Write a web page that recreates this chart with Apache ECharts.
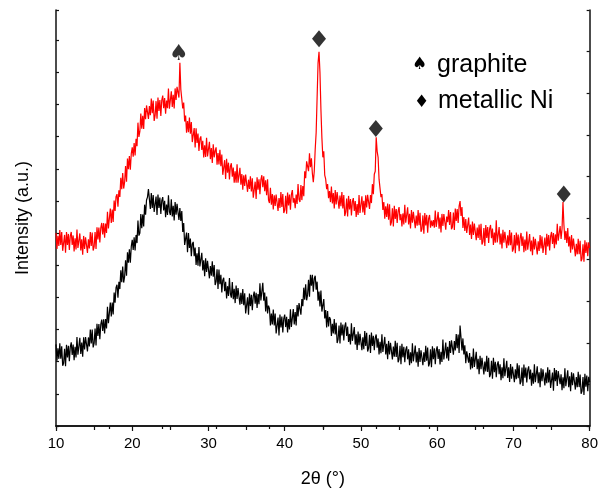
<!DOCTYPE html>
<html><head><meta charset="utf-8">
<script src="https://cdn.jsdelivr.net/npm/echarts@6/dist/echarts.min.js"></script>
<style>html,body{margin:0;padding:0;background:#fff}#c{width:601px;height:493px}</style>
</head><body><div id="c"></div>
<script>
// 2θ sampling grid (degrees)
const thetaStart = 10, thetaStep = 0.125;
// Red pattern intensity (a.u.), read at 0.125° steps from 10° to 80° (one row per degree)
const redIntensity = [
1940,1780,1910,1810,1970,1820,1950,1760,
1780,1920,1740,1950,1820,1930,1770,1910,
1950,1820,1915,1755,1885,1775,1975,1790,
1775,1935,1765,1875,1720,1910,1780,1895,
1890,1738,1875,1783,1950,1808,1945,1763,
1800,1949,1778,1996,1875,1994,1843,1991,
2040,1924,2038,1891,2035,1939,2153,1986,
2000,2185,2040,2175,2050,2265,2160,2305,
2330,2204,2368,2301,2495,2379,2543,2386,
2450,2613,2455,2688,2580,2713,2575,2738,
2800,2706,2843,2719,2885,2811,3048,2904,
2960,3139,2988,3116,2985,3194,3083,3221,
3240,3086,3215,3124,3290,3144,3270,3065,
3120,3264,3088,3300,3165,3275,3115,3275,
3320,3193,3295,3139,3270,3193,3390,3188,
3190,3362,3205,3328,3190,3392,3275,3408,
3420,3300,3650,3380,3400,3190,3250,3060,
3120,2948,3065,2953,3100,2938,3055,2853,
2870,2994,2798,2991,2845,2939,2763,2886,
2910,2773,2865,2698,2820,2703,2895,2708,
2700,2856,2682,2792,2642,2830,2700,2765,
2800,2626,2743,2629,2775,2611,2728,2524,
2540,2671,2483,2684,2545,2646,2478,2609,
2640,2504,2598,2444,2559,2444,2631,2444,
2440,2594,2424,2531,2375,2519,2412,2526,
2520,2353,2475,2382,2510,2357,2490,2295,
2310,2455,2280,2500,2375,2480,2330,2475,
2520,2400,2510,2360,2470,2320,2480,2270,
2240,2394,2224,2331,2175,2319,2212,2326,
2320,2160,2290,2190,2350,2200,2330,2140,
2170,2314,2134,2345,2215,2325,2173,2326,
2370,2244,2289,2189,2325,2231,2431,2278,
2250,2420,2270,2410,2310,2560,2490,2660,
2640,2560,2740,2600,2690,2540,2450,2560,
2780,2950,3300,3650,3760,3550,3180,2900,
2700,2760,2520,2480,2380,2430,2290,2360,
2250,2405,2235,2340,2185,2370,2225,2350,
2350,2184,2315,2208,2350,2186,2320,2110,
2150,2286,2106,2312,2175,2281,2116,2254,
2290,2160,2260,2100,2230,2120,2320,2140,
2140,2308,2145,2263,2120,2318,2195,2323,
2330,2180,2320,2240,2430,2330,2530,2560,
2900,2760,2700,2480,2500,2300,2330,2170,
2250,2084,2208,2101,2235,2072,2228,2014,
2050,2188,2005,2213,2080,2180,2040,2158,
2200,2069,2128,2006,2136,2024,2224,2043,
2040,2198,2025,2133,1985,2171,2043,2152,
2150,1988,2115,2013,2170,2017,2143,1952,
1980,2116,1933,2139,2016,2121,1941,2083,
2120,1993,2065,2007,2070,1993,2165,2000,
1990,2151,1983,2094,1945,2131,2009,2129,
2130,1973,2105,2048,2170,2020,2150,1978,
2000,2145,1970,2185,2060,2180,2040,2210,
2260,2110,2200,1990,2100,1960,2080,1940,
1940,2095,1920,2025,1880,2055,1920,2035,
2030,1866,1993,1889,2025,1869,2031,1823,
1850,1990,1810,2020,1890,2000,1840,1980,
2020,1886,1983,1819,1945,1841,2066,1844,
1840,1998,1825,1933,1785,1971,1843,1952,
1950,1788,1915,1813,1970,1817,1943,1752,
1780,1919,1737,1945,1815,1924,1756,1889,
1940,1808,1905,1746,1873,1762,1955,1772,
1770,1928,1755,1863,1715,1901,1773,1882,
1880,1723,1855,1758,1920,1783,1905,1738,
1750,1894,1718,1931,1805,1919,1763,1906,
1950,1829,1938,1786,1925,1824,2033,1861,
1870,2010,1880,1980,2250,2020,1870,1960,
1840,1988,1805,1903,1740,1918,1775,1883,
1870,1705,1830,1725,1880,1725,1860,1655,
1680,1825,1650,1865,1740,1845,1705,1845,
1790
];
// Black pattern intensity (a.u.)
const blackIntensity = [
820,655,780,675,830,675,800,605,
630,775,600,815,690,805,650,795,
840,714,818,661,795,689,893,716,
720,886,723,839,695,891,768,894,
900,750,890,800,970,830,970,790,
830,979,808,1026,905,1024,873,1021,
1070,956,1073,929,1075,981,1198,1034,
1050,1240,1100,1240,1120,1340,1240,1390,
1420,1289,1448,1376,1565,1444,1603,1441,
1500,1665,1510,1745,1640,1775,1640,1805,
1870,1768,1895,1763,1920,1838,2065,1913,
1940,2129,1988,2126,2005,2224,2123,2271,
2300,2380,2280,2180,2340,2190,2320,2150,
2170,2305,2120,2325,2190,2295,2130,2265,
2300,2166,2263,2099,2225,2121,2318,2154,
2120,2278,2105,2213,2065,2251,2123,2232,
2230,2070,2190,2060,2160,1950,2040,1820,
1820,1943,1745,1938,1790,1883,1705,1828,
1850,1706,1793,1619,1735,1611,1798,1604,
1590,1741,1563,1664,1505,1686,1548,1659,
1650,1484,1608,1511,1655,1499,1617,1416,
1450,1574,1378,1571,1425,1519,1343,1466,
1490,1354,1448,1281,1405,1307,1487,1329,
1290,1446,1273,1379,1235,1411,1277,1386,
1390,1219,1338,1226,1375,1214,1333,1131,
1150,1294,1118,1331,1205,1319,1163,1306,
1350,1229,1338,1186,1325,1224,1433,1261,
1270,1440,1260,1340,1150,1300,1130,1210,
1180,1010,1130,1020,1170,1010,1130,930,
950,1090,910,1120,990,1100,940,1080,
1120,994,1098,941,1075,969,1173,996,
1000,1175,1020,1145,1010,1215,1100,1235,
1250,1118,1275,1203,1390,1268,1425,1263,
1320,1470,1300,1520,1410,1520,1350,1480,
1510,1370,1450,1260,1350,1200,1360,1150,
1140,1275,1080,1165,990,1155,1000,1095,
1070,904,1028,931,1075,919,1037,834,
870,1010,830,1040,910,1020,860,1000,
1040,904,998,844,925,819,1031,856,
840,994,818,921,765,949,813,926,
920,761,891,771,955,805,937,749,
780,916,733,939,805,907,761,886,
920,786,880,719,845,731,922,744,
740,895,720,825,670,855,720,835,
830,669,798,697,855,694,836,641,
670,805,620,825,690,795,640,765,
800,670,770,610,740,630,830,650,
650,809,638,746,595,784,643,761,
770,611,741,644,805,656,788,599,
630,770,590,800,670,780,620,760,
800,673,773,618,745,643,868,668,
670,839,678,796,655,854,733,861,
870,716,853,759,925,781,918,734,
1010,890,760,880,720,810,630,750,
770,636,733,569,695,581,778,594,
590,745,570,675,520,705,570,685,
680,519,648,547,705,544,686,491,
520,655,475,685,540,645,490,615,
650,520,620,460,590,480,680,500,
500,656,483,589,443,623,474,596,
600,440,570,470,630,480,610,420,
450,587,403,617,485,587,437,562,
600,469,568,406,534,424,621,441,
440,600,430,540,390,580,450,570,
570,408,538,431,590,438,565,383,
400,537,355,582,450,562,403,552,
550,420,520,360,490,380,580,400,
400,560,390,500,350,540,410,530,
530,366,493,389,545,391,518,324,
350,491,312,524,395,507,350,494,
440
];
// Peak markers
const graphitePeakX = [26.1], graphitePeakY = [3740];
const niPeakX = [44.5, 51.95, 76.6], niPeakY = [3890, 2990, 2330];
// Axis ticks
const xTickInterval = 10, topTickInterval = 7;
const yMax = 4180, leftTickInterval = 323, rightTickInterval = 418;
const legendLabels = ['graphite', 'metallic Ni'];

const toPairs = arr => arr.map((v, i) => [thetaStart + i * thetaStep, v]);
const font = 'Liberation Sans, Arial, sans-serif';
const chart = echarts.init(document.getElementById('c'), null, {renderer: 'canvas'});
const axisLine = {show: true, lineStyle: {color: '#111', width: 1.5}};
const tickStyle = {color: '#111', width: 1.2};
chart.setOption({
  animation: false,
  backgroundColor: '#fff',
  grid: {left: 56, right: 9, top: 10, bottom: 65},
  xAxis: [
    {type: 'value', position: 'bottom', min: 10, max: 80, interval: xTickInterval,
     axisLine, splitLine: {show: false},
     axisTick: {show: true, inside: false, length: 5, lineStyle: tickStyle},
     minorTick: {show: true, splitNumber: 2, length: 4, lineStyle: tickStyle},
     axisLabel: {color: '#000', fontSize: 15, fontFamily: font, margin: 10},
     name: '2θ (°)', nameLocation: 'middle', nameGap: 44,
     nameTextStyle: {color: '#000', fontSize: 18, fontFamily: font}},
    {type: 'value', position: 'top', min: 10, max: 80, interval: topTickInterval,
     axisLine, splitLine: {show: false}, axisLabel: {show: false},
     axisTick: {show: true, inside: true, length: 3, lineStyle: tickStyle}}
  ],
  yAxis: [
    {type: 'value', position: 'left', min: 0, max: yMax, interval: leftTickInterval,
     axisLine, splitLine: {show: false}, axisLabel: {show: false},
     axisTick: {show: true, inside: true, length: 3, lineStyle: tickStyle},
     name: 'Intensity (a.u.)', nameLocation: 'middle', nameGap: 24, nameRotate: 90,
     nameTextStyle: {color: '#000', fontSize: 18, fontFamily: font}},
    {type: 'value', position: 'right', min: 0, max: yMax, interval: rightTickInterval,
     axisLine, splitLine: {show: false}, axisLabel: {show: false},
     axisTick: {show: true, inside: true, length: 3, lineStyle: tickStyle}}
  ],
  series: [
    {type: 'line', name: 'black', data: toPairs(blackIntensity), showSymbol: false, symbol: 'none',
     lineStyle: {color: '#000', width: 1.2}, z: 2},
    {type: 'line', name: 'red', data: toPairs(redIntensity), showSymbol: false, symbol: 'none',
     lineStyle: {color: '#ff0000', width: 1.2}, z: 3},
    {type: 'scatter', name: 'graphite', data: graphitePeakX.map((x, i) => [x, graphitePeakY[i]]),
     symbol: 'circle', symbolSize: 1, itemStyle: {color: 'rgba(0,0,0,0)'},
     label: {show: true, position: 'inside', formatter: '♠', color: '#000', fontSize: 22, fontFamily: 'DejaVu Sans'}, z: 5},
    {type: 'scatter', name: 'Ni', data: niPeakX.map((x, i) => [x, niPeakY[i]]),
     symbol: 'diamond', symbolSize: [14, 17], itemStyle: {color: '#000'}, z: 5}
  ],
  graphic: [
    {type: 'text', left: 412, top: 56, style: {text: '♠', fontSize: 17, fontFamily: 'DejaVu Sans', fill: '#000'}},
    {type: 'text', left: 437, top: 53, style: {text: legendLabels[0], fontSize: 25, fontFamily: font, fill: '#000'}},
    {type: 'text', left: 414, top: 94, style: {text: '♦', fontSize: 17, fontFamily: 'DejaVu Sans', fill: '#000'}},
    {type: 'text', left: 438, top: 89, style: {text: legendLabels[1], fontSize: 25, fontFamily: font, fill: '#000'}}
  ]
});
</script></body></html>
